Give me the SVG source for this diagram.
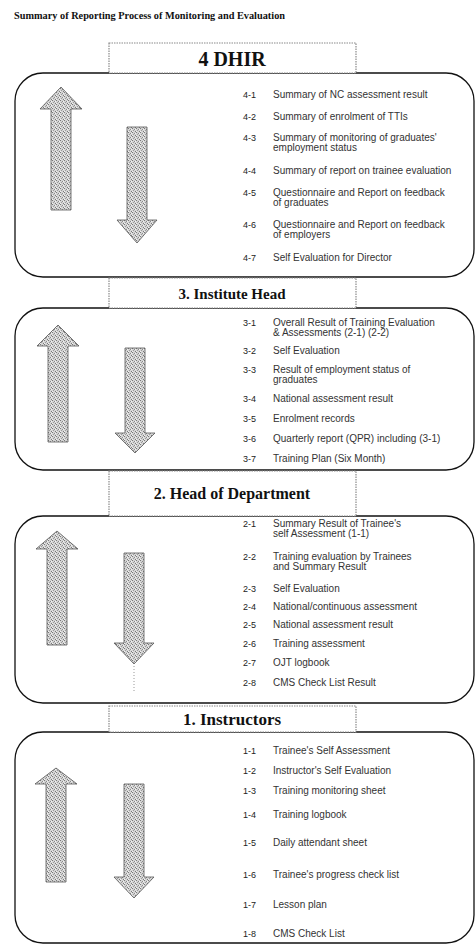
<svg xmlns="http://www.w3.org/2000/svg" width="476" height="947" viewBox="0 0 476 947">
<style>
.title{font-family:"Liberation Serif",serif;font-weight:bold;font-size:10px;fill:#111}
.hdr{fill:#fff;stroke:#8a8a8a;stroke-width:1.2;stroke-dasharray:1.5 1}
.htxt{font-family:"Liberation Serif",serif;font-weight:bold;fill:#111;text-anchor:middle}
.panel{fill:none;stroke:#111;stroke-width:1.3}
.num{font-family:"Liberation Sans",sans-serif;font-size:9px;fill:#222}
.item{font-family:"Liberation Sans",sans-serif;font-size:10px;fill:#333}
.arrow{fill:url(#stip);stroke:#555;stroke-width:0.8}
.dots{stroke:#999;stroke-width:1;stroke-dasharray:1 2;fill:none}
</style>
<defs>
<pattern id="stip" width="4" height="4" patternUnits="userSpaceOnUse">
<rect width="4" height="4" fill="#d4d4d4"/>
<rect x="0" y="0" width="1" height="1" fill="#7a7a7a"/>
<rect x="2" y="1" width="1" height="1" fill="#8a8a8a"/>
<rect x="1" y="2" width="1" height="1" fill="#9a9a9a"/>
<rect x="3" y="3" width="1" height="1" fill="#7a7a7a"/>
<rect x="3" y="1" width="1" height="1" fill="#f2f2f2"/>
<rect x="0" y="3" width="1" height="1" fill="#f2f2f2"/>
</pattern>
</defs>
<rect width="476" height="947" fill="#fff"/>
<text class="title" x="14" y="19" textLength="271" lengthAdjust="spacingAndGlyphs">Summary of Reporting Process of Monitoring and Evaluation</text>

<g id="panel-dhir">
<rect class="panel" x="15" y="73" width="459" height="204" rx="28"/>
<polygon class="arrow" points="61,87 82,109 71,109 71,210 51,210 51,109 40,109"/>
<polygon class="arrow" points="127,127 147,127 147,220 157,220 137,243 117,220 127,220"/>
<text class="num" x="243" y="98">4-1</text><text class="item" x="273" y="98">Summary of NC assessment result</text>
<text class="num" x="243" y="120">4-2</text><text class="item" x="273" y="120">Summary of enrolment of TTIs</text>
<text class="num" x="243" y="141">4-3</text><text class="item" x="273" y="141">Summary of monitoring of graduates'</text><text class="item" x="273" y="151">employment status</text>
<text class="num" x="243" y="174">4-4</text><text class="item" x="273" y="174">Summary of report on trainee evaluation</text>
<text class="num" x="243" y="196">4-5</text><text class="item" x="273" y="196">Questionnaire and Report on feedback</text><text class="item" x="273" y="206">of graduates</text>
<text class="num" x="243" y="228">4-6</text><text class="item" x="273" y="228">Questionnaire and Report on feedback</text><text class="item" x="273" y="238">of employers</text>
<text class="num" x="243" y="261">4-7</text><text class="item" x="273" y="261">Self Evaluation for Director</text>
</g>
<g id="hdr-dhir">
<rect class="hdr" x="109" y="43" width="247" height="30"/>
<text class="htxt" x="232" y="66" font-size="20">4 DHIR</text>
</g>

<g id="panel-institute">
<rect class="panel" x="15" y="308" width="459" height="162" rx="28"/>
<polygon class="arrow" points="58,325 79,346 68,346 68,442 48,442 48,346 37,346"/>
<polygon class="arrow" points="125,348 145,348 145,433 155,433 135,453 115,433 125,433"/>
<text class="num" x="243" y="326">3-1</text><text class="item" x="273" y="326">Overall Result of Training Evaluation</text><text class="item" x="273" y="336">&amp; Assessments (2-1) (2-2)</text>
<text class="num" x="243" y="354">3-2</text><text class="item" x="273" y="354">Self Evaluation</text>
<text class="num" x="243" y="373">3-3</text><text class="item" x="273" y="373">Result of employment status of</text><text class="item" x="273" y="383">graduates</text>
<text class="num" x="243" y="402">3-4</text><text class="item" x="273" y="402">National assessment result</text>
<text class="num" x="243" y="422">3-5</text><text class="item" x="273" y="422">Enrolment records</text>
<text class="num" x="243" y="442">3-6</text><text class="item" x="273" y="442">Quarterly report (QPR) including (3-1)</text>
<text class="num" x="243" y="462">3-7</text><text class="item" x="273" y="462">Training Plan (Six Month)</text>
</g>
<g id="hdr-institute">
<rect class="hdr" x="109" y="278" width="247" height="30"/>
<text class="htxt" x="232" y="299" font-size="15">3. Institute Head</text>
</g>

<g id="panel-department">
<rect class="panel" x="15" y="516" width="459" height="187" rx="28"/>
<polygon class="arrow" points="57,531 78,549 67,549 67,645 47,645 47,549 36,549"/>
<polygon class="arrow" points="124,553 144,553 144,643 154,643 134,664 114,643 124,643"/>
<text class="num" x="243" y="527">2-1</text><text class="item" x="273" y="527">Summary Result of Trainee's</text><text class="item" x="273" y="537">self Assessment (1-1)</text>
<text class="num" x="243" y="560">2-2</text><text class="item" x="273" y="560">Training evaluation by Trainees</text><text class="item" x="273" y="570">and Summary Result</text>
<text class="num" x="243" y="592">2-3</text><text class="item" x="273" y="592">Self Evaluation</text>
<text class="num" x="243" y="610">2-4</text><text class="item" x="273" y="610">National/continuous assessment</text>
<text class="num" x="243" y="628">2-5</text><text class="item" x="273" y="628">National assessment result</text>
<text class="num" x="243" y="647">2-6</text><text class="item" x="273" y="647">Training assessment</text>
<text class="num" x="243" y="666">2-7</text><text class="item" x="273" y="666">OJT logbook</text>
<text class="num" x="243" y="686">2-8</text><text class="item" x="273" y="686">CMS Check List Result</text>
</g>
<g id="hdr-department">
<rect class="hdr" x="109" y="471" width="247" height="45"/>
<text class="htxt" x="232" y="499" font-size="16">2. Head of Department</text>
</g>

<g id="panel-instructors">
<rect class="panel" x="15" y="732" width="459" height="211" rx="28"/>
<polygon class="arrow" points="56,768 77,784 66,784 66,882 46,882 46,784 35,784"/>
<polygon class="arrow" points="124,784 144,784 144,877 154,877 134,898 114,877 124,877"/>
<text class="num" x="243" y="754">1-1</text><text class="item" x="273" y="754">Trainee's Self Assessment</text>
<text class="num" x="243" y="774">1-2</text><text class="item" x="273" y="774">Instructor's Self Evaluation</text>
<text class="num" x="243" y="794">1-3</text><text class="item" x="273" y="794">Training monitoring sheet</text>
<text class="num" x="243" y="818">1-4</text><text class="item" x="273" y="818">Training logbook</text>
<text class="num" x="243" y="846">1-5</text><text class="item" x="273" y="846">Daily attendant sheet</text>
<text class="num" x="243" y="878">1-6</text><text class="item" x="273" y="878">Trainee's progress check list</text>
<text class="num" x="243" y="908">1-7</text><text class="item" x="273" y="908">Lesson plan</text>
<text class="num" x="243" y="937">1-8</text><text class="item" x="273" y="937">CMS Check List</text>
</g>
<g id="hdr-instructors">
<rect class="hdr" x="109" y="706" width="247" height="26"/>
<text class="htxt" x="232" y="725" font-size="17">1.  Instructors</text>
</g>

<g id="connectors">
<line class="dots" x1="134" y1="666" x2="134" y2="693"/>
</g>
</svg>
